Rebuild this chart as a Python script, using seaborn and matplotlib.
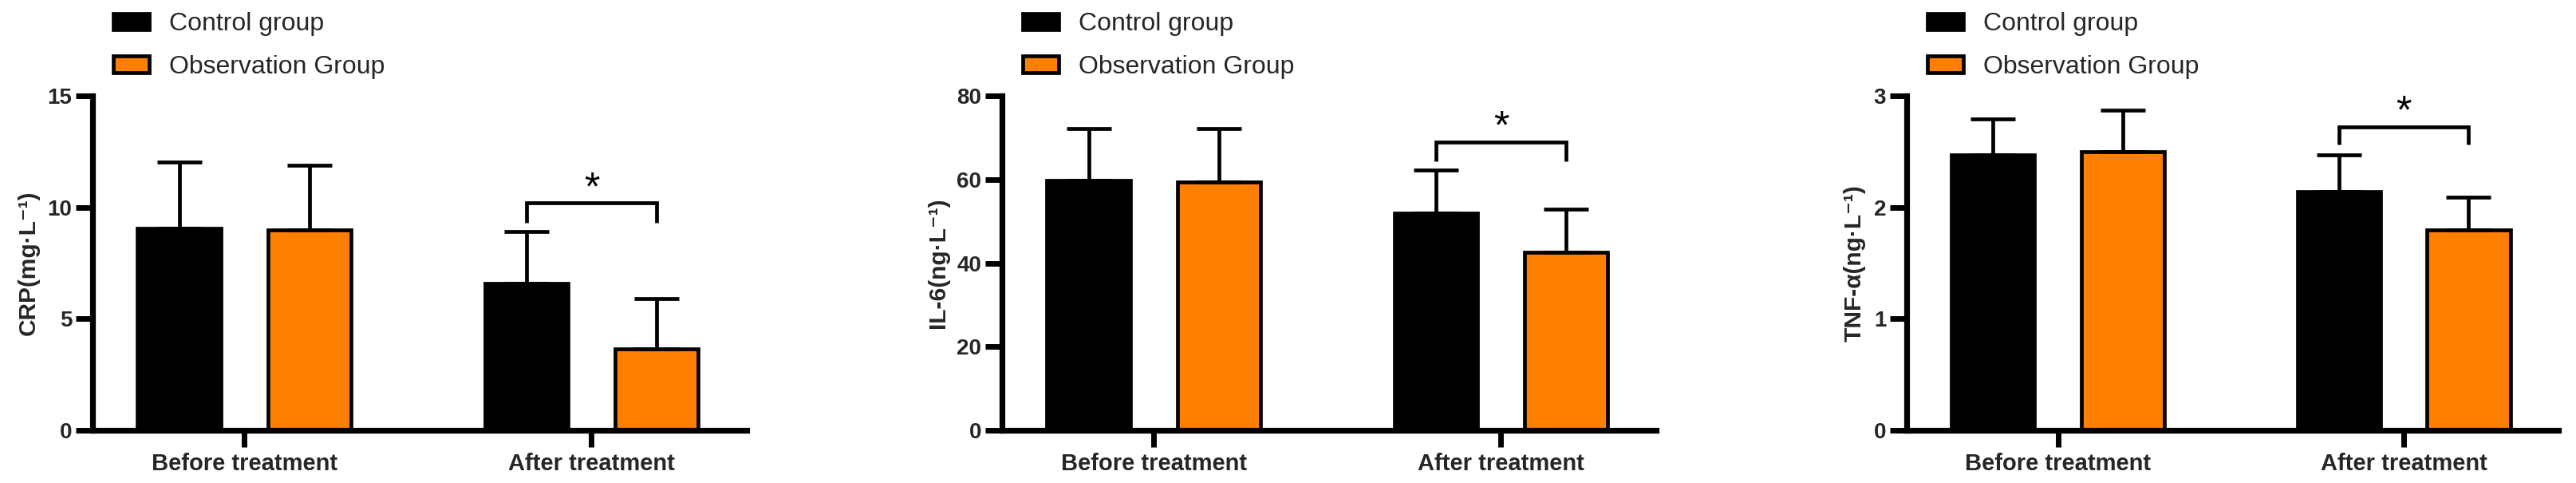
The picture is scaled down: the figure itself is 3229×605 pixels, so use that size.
import pandas as pd
import numpy as np

import seaborn as sns
import matplotlib.pyplot as plt
from matplotlib.patches import Patch

# ======================================
# DATA
# ======================================

times = ["Before treatment", "After treatment"]
groups = ["Control group", "Observation Group"]

crp_control = [9.06, 6.57]
crp_control_sd = [2.98, 2.35]
crp_obs = [9.00, 3.65]
crp_obs_sd = [2.88, 2.25]

il6_control = [59.8, 51.9]
il6_control_sd = [12.4, 10.3]
il6_obs = [59.3, 42.6]
il6_obs_sd = [12.9, 10.2]

tnf_control = [2.47, 2.14]
tnf_control_sd = [0.32, 0.33]
tnf_obs = [2.50, 1.80]
tnf_obs_sd = [0.37, 0.29]

y_labels = ["CRP(mg·L⁻¹)", "IL-6(ng·L⁻¹)", "TNF-α(ng·L⁻¹)"]
y_ticks = [[0, 5, 10, 15], [0, 20, 40, 60, 80], [0, 1, 2, 3]]

# significance bracket (after treatment): leg bottom, bracket top, star
bracket_legs = [9.3, 64.4, 2.56]
bracket_tops = [10.2, 68.9, 2.72]
star_y = [10.8, 72.2, 2.85]

colors = ["#000000", "#FF8000"]

panels = [
    (crp_control, crp_control_sd, crp_obs, crp_obs_sd),
    (il6_control, il6_control_sd, il6_obs, il6_obs_sd),
    (tnf_control, tnf_control_sd, tnf_obs, tnf_obs_sd),
]

# ======================================
# STYLE
# ======================================

sns.set_style("ticks")
plt.rcParams["font.family"] = ["Liberation Sans", "DejaVu Sans"]

W, H = 3229, 605
fig = plt.figure(figsize=(W / 100, H / 100), dpi=100)

lefts = [116, 1256, 2390]
widths = [820, 820, 817]
ax_bottom = 539
ax_top = 120

lw = 3.4

for i, (ctrl, ctrl_sd, obs, obs_sd) in enumerate(panels):
    ax = fig.add_axes([
        lefts[i] / W,
        (H - ax_bottom) / H,
        widths[i] / W,
        (ax_bottom - ax_top) / H,
    ])

    df = pd.DataFrame({
        "time": times * 2,
        "group": [groups[0]] * 2 + [groups[1]] * 2,
        "value": ctrl + obs,
    })

    sns.barplot(
        data=df,
        x="time",
        y="value",
        hue="group",
        hue_order=groups,
        order=times,
        palette=colors,
        saturation=1,
        errorbar=None,
        width=0.75,
        gap=0.36,
        edgecolor="black",
        linewidth=lw,
        legend=False,
        ax=ax,
    )

    # error bars (upper only), placed on the bars seaborn drew
    sds = ctrl_sd + obs_sd
    centers = []
    for patch, sd in zip(ax.patches, sds):
        xc = patch.get_x() + patch.get_width() / 2
        h = patch.get_height()
        centers.append(xc)
        ax.errorbar(
            xc, h,
            yerr=[[0], [sd]],
            fmt="none",
            ecolor="black",
            elinewidth=lw,
            capsize=20,
            capthick=lw,
            zorder=1,
        )

    # significance bracket between the after-treatment bars
    x1 = centers[1]
    x2 = centers[3]
    ax.plot(
        [x1, x1, x2, x2],
        [bracket_legs[i], bracket_tops[i], bracket_tops[i], bracket_legs[i]],
        color="black",
        linewidth=lw,
        solid_capstyle="butt",
        solid_joinstyle="miter",
    )
    ax.text(
        (x1 + x2) / 2, star_y[i], "*",
        ha="center", va="center",
        fontsize=36, color="black",
    )

    ax.set_xlim(-0.437, 1.447)
    ax.set_ylim(0, y_ticks[i][-1])
    ax.set_yticks(y_ticks[i])

    sns.despine(ax=ax)
    for side in ["left", "bottom"]:
        ax.spines[side].set_linewidth(5.2)
        ax.spines[side].set_color("black")

    ax.tick_params(
        axis="both", direction="out", length=15, width=5,
        color="black", labelsize=20,
    )
    ax.tick_params(axis="y", pad=3.5)
    ax.tick_params(axis="x", pad=5, labelsize=21)
    for lab in ax.get_xticklabels() + ax.get_yticklabels():
        lab.set_fontweight("bold")

    ax.set_xlabel("")
    ax.set_ylabel(
        y_labels[i],
        fontsize=21.5,
        fontweight="bold",
        labelpad=7,
    )

    handles = [
        Patch(facecolor=colors[0], edgecolor="black", linewidth=lw),
        Patch(facecolor=colors[1], edgecolor="black", linewidth=lw),
    ]
    ax.legend(
        handles,
        groups,
        loc="upper left",
        bbox_to_anchor=(0.032, 1.25),
        frameon=False,
        fontsize=23,
        borderpad=0,
        borderaxespad=0,
        handlelength=1.41,
        handleheight=0.63,
        handletextpad=0.78,
        labelspacing=0.73,
    )

plt.savefig("out.png", dpi=100)
